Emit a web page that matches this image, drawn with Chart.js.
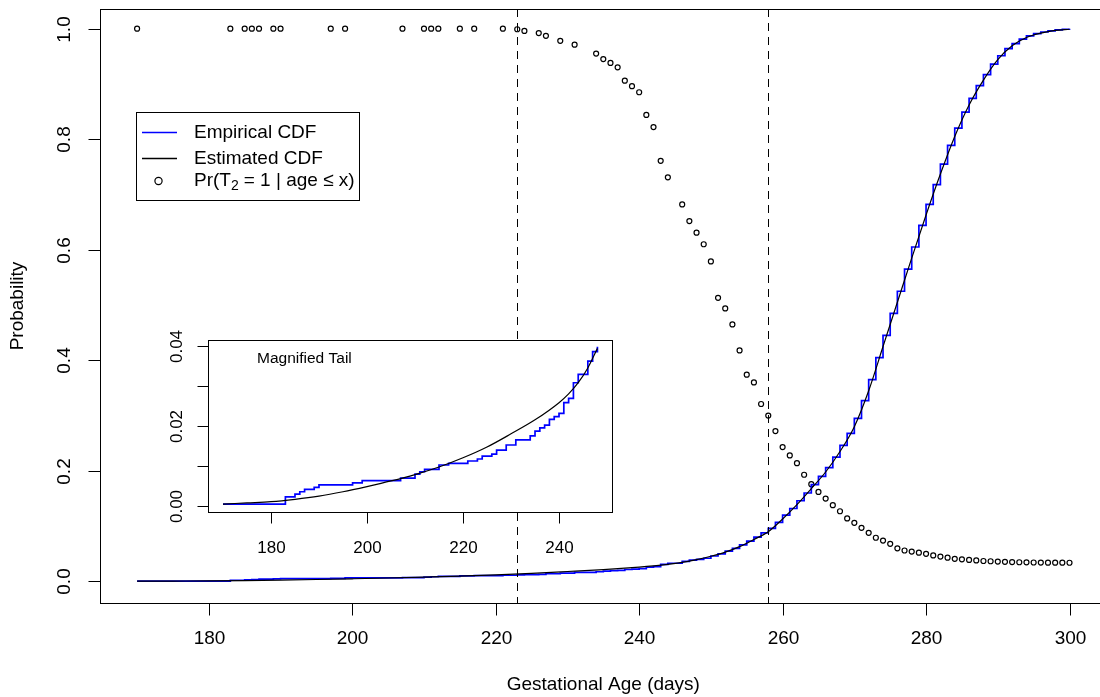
<!DOCTYPE html>
<html>
<head>
<meta charset="utf-8">
<script src="https://cdn.jsdelivr.net/npm/chart.js@4"></script>
<style>
  html, body { margin: 0; padding: 0; background: #fff; overflow: hidden; }
  #wrap { position: relative; width: 1112px; height: 697px; }
  #mainChart { position: absolute; left: 0; top: 0; }
  #insetChart { position: absolute; left: 150px; top: 320px; }
</style>
</head>
<body>
<div id="wrap">
  <canvas id="mainChart" width="1112" height="697"></canvas>
  <canvas id="insetChart" width="480" height="250"></canvas>
</div>
<script>
// observed gestational ages (days)
var ages = [170, 183, 185, 186, 187, 189, 190, 197, 199, 207, 210, 211, 212, 215, 217, 221, 223,
  224, 226, 227, 229, 231, 234, 235, 236, 237, 238, 239, 240, 241, 242, 243, 244, 246, 247, 248,
  249, 250, 251, 252, 253, 254, 255, 256, 257, 258, 259, 260, 261, 262, 263, 264, 265, 266, 267,
  268, 269, 270, 271, 272, 273, 274, 275, 276, 277, 278, 279, 280, 281, 282, 283, 284, 285, 286,
  287, 288, 289, 290, 291, 292, 293, 294, 295, 296, 297, 298, 299, 300];

var empiricalCdf = [0.0004, 0.0022, 0.0029, 0.0035, 0.0041, 0.0046, 0.0052, 0.0057, 0.0063, 0.0069,
  0.0079, 0.0085, 0.0091, 0.0102, 0.0106, 0.0112, 0.0117,
  0.0124, 0.0129, 0.0139, 0.0152, 0.0165, 0.0175, 0.0187, 0.0195, 0.0202, 0.0216, 0.0223, 0.0231,
  0.0258, 0.0269, 0.0308, 0.0329, 0.0362, 0.0386, 0.0398,
  0.042, 0.046, 0.050, 0.055, 0.060, 0.066, 0.073, 0.080, 0.088, 0.096, 0.107, 0.120, 0.132, 0.146,
  0.160, 0.175, 0.190, 0.206, 0.225, 0.246, 0.268, 0.295, 0.327, 0.365, 0.405, 0.445, 0.485, 0.525,
  0.565, 0.605, 0.644, 0.682, 0.718, 0.755, 0.789, 0.820, 0.849, 0.874, 0.897, 0.917, 0.936, 0.951,
  0.964, 0.973, 0.981, 0.987, 0.991, 0.994, 0.996, 0.998, 0.999, 1.0];

// Pr(T2 = 1 | age <= x)
var prT2 = [1, 1, 1, 1, 1, 1, 1, 1, 1, 1, 1, 1, 1, 1, 1, 1, 0.999,
  0.996, 0.992, 0.987, 0.978, 0.971, 0.955, 0.945, 0.938, 0.930, 0.906, 0.896, 0.885, 0.844, 0.822,
  0.761, 0.731, 0.682, 0.652, 0.631,
  0.610, 0.579, 0.513, 0.494, 0.465, 0.418, 0.374, 0.360, 0.321, 0.300, 0.272, 0.243, 0.228, 0.214,
  0.193, 0.176, 0.162, 0.150, 0.138, 0.127, 0.114, 0.106, 0.097, 0.088, 0.079, 0.074, 0.068, 0.060,
  0.056, 0.054, 0.052, 0.050, 0.047, 0.045, 0.043, 0.041, 0.040, 0.039, 0.038, 0.037, 0.0365, 0.036,
  0.0355, 0.035, 0.0347, 0.0345, 0.0343, 0.0341, 0.034, 0.034, 0.034, 0.0338];

var estAges = [170, 175, 180, 185, 190, 195, 200, 205, 210, 215, 220, 225, 230, 235, 240, 242, 244,
  246, 248, 250, 252, 254, 256, 258, 260, 262, 264, 266, 268, 270, 272, 274, 276, 278, 280, 282,
  284, 286, 288, 290, 292, 294, 296, 298, 300];
var estimatedCdf = [0.0004, 0.0007, 0.0010, 0.0016, 0.0024, 0.0035, 0.0048, 0.0062, 0.0078, 0.0097,
  0.0120, 0.0147, 0.0180, 0.0215, 0.0258, 0.0280, 0.0308, 0.0345, 0.0394, 0.0455, 0.053, 0.063,
  0.076, 0.090, 0.113, 0.139, 0.168, 0.198, 0.235, 0.280, 0.345, 0.425, 0.505, 0.585, 0.663, 0.737,
  0.805, 0.862, 0.907, 0.944, 0.969, 0.984, 0.992, 0.997, 0.999];

var cutoffs = [223, 258];
var xTicks = [180, 200, 220, 240, 260, 280, 300];
var yTicks = [0, 0.2, 0.4, 0.6, 0.8, 1.0];
var yTickLabels = ['0.0', '0.2', '0.4', '0.6', '0.8', '1.0'];
var insetMaxAge = 248;
var insetXTicks = [180, 200, 220, 240];
var insetYTicks = [0, 0.01, 0.02, 0.03, 0.04];
var insetYLabels = ['0.00', '', '0.02', '', '0.04'];
var legendLabels = ['Empirical CDF', 'Estimated CDF'];

var FONT = '"Liberation Sans", Arial, Helvetica, sans-serif';

function pts(xs, ys, maxX) {
  var out = [];
  for (var i = 0; i < xs.length; i++) {
    if (maxX === undefined || xs[i] <= maxX) out.push({x: xs[i], y: ys[i]});
  }
  return out;
}

function drawAxes(chart, cfg) {
  var ctx = chart.ctx, a = chart.chartArea;
  var xs = chart.scales.x, ys = chart.scales.y;
  ctx.save();
  ctx.strokeStyle = '#000';
  ctx.fillStyle = '#000';
  ctx.lineWidth = 1;
  ctx.strokeRect(Math.round(a.left) + 0.5, Math.round(a.top) + 0.5,
    Math.round(a.right) - Math.round(a.left), Math.round(a.bottom) - Math.round(a.top));
  ctx.font = cfg.font + 'px ' + FONT;
  ctx.textAlign = 'center';
  ctx.textBaseline = 'middle';
  var b = Math.round(a.bottom) + 0.5;
  cfg.xTicks.forEach(function(v) {
    var px = Math.round(xs.getPixelForValue(v)) + 0.5;
    ctx.beginPath(); ctx.moveTo(px, b); ctx.lineTo(px, b + cfg.tick); ctx.stroke();
    ctx.fillText(String(v), px, a.bottom + cfg.xLab);
  });
  var l = Math.round(a.left) + 0.5;
  cfg.yTicks.forEach(function(v, i) {
    var py = Math.round(ys.getPixelForValue(v)) + 0.5;
    ctx.beginPath(); ctx.moveTo(l, py); ctx.lineTo(l - cfg.tick, py); ctx.stroke();
    if (cfg.yLabels[i]) {
      ctx.save();
      ctx.translate(a.left - cfg.yLab, py);
      ctx.rotate(-Math.PI / 2);
      ctx.fillText(cfg.yLabels[i], 0, 0);
      ctx.restore();
    }
  });
  ctx.restore();
}

var mainDecor = {
  id: 'mainDecor',
  afterDatasetsDraw: function(chart) {
    var ctx = chart.ctx, a = chart.chartArea, xs = chart.scales.x;
    ctx.save();
    ctx.strokeStyle = '#000';
    ctx.lineWidth = 1;
    ctx.setLineDash([8, 6]);
    cutoffs.forEach(function(c) {
      var px = Math.round(xs.getPixelForValue(c)) + 0.5;
      ctx.beginPath(); ctx.moveTo(px, a.top); ctx.lineTo(px, a.bottom); ctx.stroke();
    });
    ctx.restore();
  },
  afterDraw: function(chart) {
    var ctx = chart.ctx, a = chart.chartArea;
    drawAxes(chart, {xTicks: xTicks, yTicks: yTicks, yLabels: yTickLabels,
      font: 19, tick: 12, xLab: 36, yLab: 35});
    ctx.save();
    ctx.fillStyle = '#000';
    ctx.font = '19px ' + FONT;
    ctx.textAlign = 'center';
    ctx.textBaseline = 'middle';
    ctx.fillText('Gestational Age (days)', (a.left + a.right) / 2, 685);
    ctx.save();
    ctx.translate(18, (a.top + a.bottom) / 2);
    ctx.rotate(-Math.PI / 2);
    ctx.fillText('Probability', 0, 0);
    ctx.restore();

    // legend
    ctx.strokeStyle = '#000';
    ctx.lineWidth = 1;
    ctx.strokeRect(136.5, 112.5, 223, 88);
    var rows = [132.5, 158.5, 181];
    ctx.textAlign = 'left';
    ctx.lineWidth = 1.3;
    ctx.strokeStyle = '#0000ff';
    ctx.beginPath(); ctx.moveTo(142, rows[0]); ctx.lineTo(177, rows[0]); ctx.stroke();
    ctx.strokeStyle = '#000';
    ctx.beginPath(); ctx.moveTo(142, rows[1]); ctx.lineTo(177, rows[1]); ctx.stroke();
    ctx.lineWidth = 1.2;
    ctx.beginPath(); ctx.arc(158.5, rows[2], 3.6, 0, Math.PI * 2); ctx.stroke();
    ctx.fillText(legendLabels[0], 194, rows[0]);
    ctx.fillText(legendLabels[1], 194, rows[1]);
    var x = 194;
    ctx.fillText('Pr(T', x, rows[2]);
    x += ctx.measureText('Pr(T').width;
    ctx.font = '14px ' + FONT;
    ctx.fillText('2', x, rows[2] + 5);
    x += ctx.measureText('2').width + 5;
    ctx.font = '19px ' + FONT;
    ctx.fillText('= 1 | age \u2264 x)', x, rows[2]);
    ctx.restore();
  }
};

new Chart(document.getElementById('mainChart'), {
  type: 'scatter',
  data: {
    datasets: [
      {
        label: 'Pr(T2 = 1 | age <= x)',
        data: pts(ages, prT2),
        showLine: false,
        pointRadius: 2.5,
        pointBorderWidth: 1.2,
        pointBorderColor: '#000',
        pointBackgroundColor: 'rgba(0,0,0,0)',
        order: 3
      },
      {
        label: 'Empirical CDF',
        data: pts(ages, empiricalCdf),
        showLine: true,
        stepped: true,
        borderColor: '#0000ff',
        borderWidth: 1.7,
        pointRadius: 0,
        order: 2
      },
      {
        label: 'Estimated CDF',
        data: pts(estAges, estimatedCdf),
        showLine: true,
        cubicInterpolationMode: 'monotone',
        borderColor: '#000',
        borderWidth: 1.2,
        pointRadius: 0,
        order: 1
      }
    ]
  },
  options: {
    responsive: false,
    animation: false,
    events: [],
    layout: { padding: { left: 99.8, right: 1112 - 1108.4, top: 9, bottom: 94 } },
    scales: {
      x: { type: 'linear', min: 164.8, max: 305.2, display: false },
      y: { type: 'linear', min: -0.039, max: 1.0356, display: false }
    },
    plugins: { legend: { display: false }, tooltip: { enabled: false } }
  },
  plugins: [mainDecor]
});

var insetDecor = {
  id: 'insetDecor',
  beforeDatasetsDraw: function(chart) {
    var ctx = chart.ctx, a = chart.chartArea;
    ctx.save();
    ctx.fillStyle = '#fff';
    ctx.fillRect(a.left, a.top, a.right - a.left, a.bottom - a.top);
    ctx.restore();
  },
  afterDraw: function(chart) {
    var ctx = chart.ctx;
    drawAxes(chart, {xTicks: insetXTicks, yTicks: insetYTicks, yLabels: insetYLabels,
      font: 17, tick: 11, xLab: 36, yLab: 31});
    ctx.save();
    ctx.fillStyle = '#000';
    ctx.font = '15.5px ' + FONT;
    ctx.textAlign = 'left';
    ctx.textBaseline = 'middle';
    ctx.fillText('Magnified Tail', 107, 39);
    ctx.restore();
  }
};

new Chart(document.getElementById('insetChart'), {
  type: 'scatter',
  data: {
    datasets: [
      {
        label: 'Empirical CDF',
        data: pts(ages, empiricalCdf, insetMaxAge),
        showLine: true,
        stepped: true,
        borderColor: '#0000ff',
        borderWidth: 1.7,
        pointRadius: 0,
        order: 2
      },
      {
        label: 'Estimated CDF',
        data: pts(estAges, estimatedCdf, insetMaxAge),
        showLine: true,
        cubicInterpolationMode: 'monotone',
        borderColor: '#000',
        borderWidth: 1.2,
        pointRadius: 0,
        order: 1
      }
    ]
  },
  options: {
    responsive: false,
    animation: false,
    events: [],
    layout: { padding: { left: 58, right: 480 - 462.4, top: 20, bottom: 250 - 192.3 } },
    scales: {
      x: { type: 'linear', min: 166.88, max: 251.12, display: false },
      y: { type: 'linear', min: -0.00165, max: 0.0415, display: false }
    },
    plugins: { legend: { display: false }, tooltip: { enabled: false } }
  },
  plugins: [insetDecor]
});
</script>
</body>
</html>
